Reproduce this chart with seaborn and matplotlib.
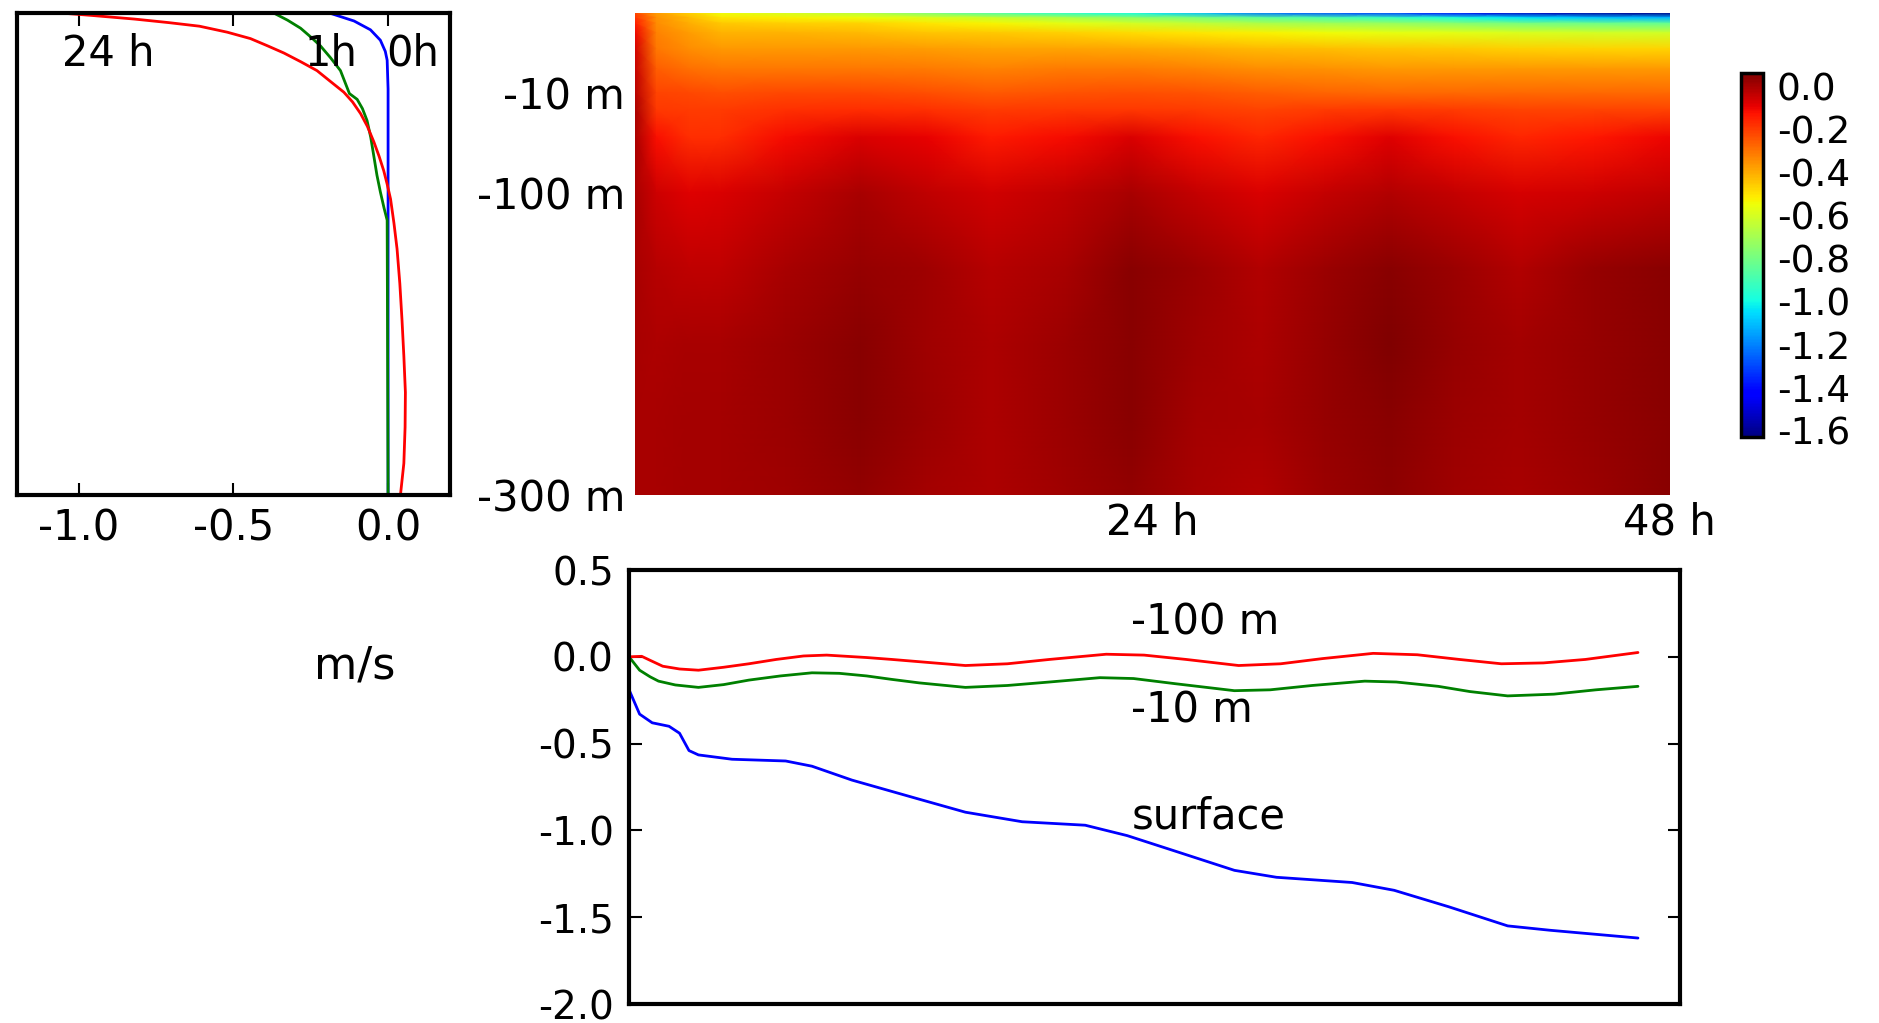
import numpy as np
import pandas as pd
import seaborn as sns
import matplotlib.pyplot as plt
from matplotlib.colors import Normalize

# ---------------- data ----------------
# vertical profiles of u (m/s) against depth (m), at 0 h, 1 h and 24 h
prof0_depth = [0, -1.0, -2.1, -3.4, -4.8, -5.9, -9.5, -300]
prof0_u = [-0.19, -0.11, -0.057, -0.025, -0.009, -0.003, 0.0, 0.0]
prof1_depth = [0, -0.9, -1.9, -3.0, -4.1, -5.6, -7.2, -10.5, -15.7, -24, -34.8, -50, -67, -84, -99, -110, -118, -300]
prof1_u = [-0.37, -0.325, -0.283, -0.25, -0.219, -0.186, -0.154, -0.125, -0.1, -0.083, -0.068, -0.056, -0.046,
           -0.036, -0.025, -0.013, -0.003, 0.0]
prof24_depth = [0, -0.3, -0.76, -1.2, -1.65, -2.4, -3.2, -4.1, -5.0, -6.1, -7.2, -8.6, -9.9, -18, -28.5, -40,
                -54, -67, -80, -92, -104, -120, -137, -160, -184, -208, -232, -255, -279, -300]
prof24_u = [-1.06, -0.96, -0.82, -0.71, -0.61, -0.52, -0.445, -0.39, -0.337, -0.282, -0.23, -0.185, -0.143,
            -0.115, -0.089, -0.067, -0.046, -0.029, -0.014, -0.003, 0.008, 0.019, 0.029, 0.038, 0.045, 0.051,
            0.056, 0.055, 0.051, 0.04]

# time series (hours, m/s) at three depths
surf_t = [0, 0.5, 1.1, 1.9, 2.4, 2.85, 3.3, 4.9, 7.45, 8.7, 10.6, 13.8, 16, 18.7, 21.7, 23.7, 26, 28.8,
          30.8, 34.4, 36.4, 39, 41.8, 43.8, 48]
surf_u = [-0.19, -0.33, -0.38, -0.40, -0.44, -0.54, -0.565, -0.59, -0.60, -0.63, -0.71, -0.82, -0.895,
          -0.95, -0.97, -1.03, -1.12, -1.23, -1.27, -1.30, -1.345, -1.44, -1.55, -1.575, -1.62]
m10_t = [0, 0.5, 1.0, 1.4, 2.2, 3.3, 4.5, 5.7, 7.2, 8.7, 10.0, 11.3, 12.5, 13.8, 16.0, 18.0, 20.0, 22.4,
         24.0, 26.0, 28.8, 30.5, 32.5, 35.0, 36.5, 38.5, 40.0, 41.8, 44.0, 46.0, 48]
m10_u = [0, -0.077, -0.115, -0.14, -0.162, -0.176, -0.16, -0.134, -0.11, -0.092, -0.095, -0.11, -0.13,
         -0.15, -0.176, -0.165, -0.145, -0.12, -0.125, -0.155, -0.195, -0.19, -0.165, -0.14, -0.145, -0.17,
         -0.2, -0.225, -0.215, -0.19, -0.17]
m100_t = [0, 0.6, 1.0, 1.6, 2.4, 3.3, 4.5, 5.7, 7.0, 8.3, 9.4, 11.3, 12.5, 14.0, 16.0, 18.0, 20.0, 22.7,
          24.5, 26.5, 29.0, 31.0, 33.0, 35.4, 37.5, 39.5, 41.5, 43.5, 45.5, 48]
m100_u = [0, 0.003, -0.02, -0.054, -0.07, -0.077, -0.06, -0.04, -0.015, 0.005, 0.01, -0.004, -0.015, -0.03,
          -0.05, -0.04, -0.015, 0.015, 0.01, -0.015, -0.05, -0.04, -0.01, 0.02, 0.012, -0.015, -0.04, -0.035,
          -0.015, 0.025]

# u(t, z) field for the section: columns = hours, rows = depth levels
times_h = [0, 1, 2.5, 4, 7, 10.5, 13.5, 16.5, 20, 23, 26, 29, 32, 35, 38, 41, 44.5, 48]
depth_m = [0, -0.6, -1.3, -2.5, -4.5, -7, -10, -25, -50, -100, -150, -200, -250, -300]
u_0m = [-0.22, -0.37, -0.46, -0.55, -0.60, -0.66, -0.78, -0.88, -0.95, -1.00, -1.10, -1.22, -1.28, -1.31, -1.40, -1.52, -1.58, -1.62]
u_0p6m = [-0.18, -0.35, -0.42, -0.50, -0.52, -0.55, -0.58, -0.62, -0.68, -0.74, -0.78, -0.84, -0.88, -0.92, -0.97, -1.04, -1.09, -1.12]
u_1p3m = [-0.14, -0.34, -0.40, -0.45, -0.46, -0.47, -0.50, -0.53, -0.57, -0.60, -0.64, -0.68, -0.71, -0.73, -0.76, -0.79, -0.81, -0.83]
u_2p5m = [-0.10, -0.32, -0.37, -0.41, -0.41, -0.42, -0.44, -0.45, -0.46, -0.48, -0.50, -0.52, -0.54, -0.56, -0.57, -0.59, -0.60, -0.61]
u_4p5m = [-0.06, -0.30, -0.34, -0.36, -0.36, -0.36, -0.37, -0.38, -0.38, -0.39, -0.40, -0.42, -0.43, -0.44, -0.45, -0.46, -0.47, -0.47]
u_7m = [-0.04, -0.26, -0.29, -0.30, -0.30, -0.30, -0.31, -0.32, -0.31, -0.31, -0.32, -0.34, -0.35, -0.36, -0.36, -0.36, -0.36, -0.36]
u_10m = [-0.02, -0.21, -0.22, -0.23, -0.22, -0.22, -0.23, -0.25, -0.24, -0.23, -0.24, -0.26, -0.27, -0.28, -0.28, -0.28, -0.28, -0.28]
u_25m = [0.0, -0.19, -0.20, -0.20, -0.18, -0.17, -0.18, -0.20, -0.19, -0.19, -0.20, -0.21, -0.20, -0.19, -0.20, -0.21, -0.21, -0.21]
u_50m = [0.0, -0.12, -0.17, -0.17, -0.11, -0.07, -0.09, -0.14, -0.11, -0.07, -0.12, -0.16, -0.12, -0.08, -0.12, -0.16, -0.13, -0.10]
u_100m = [0.0, -0.05, -0.08, -0.07, -0.04, 0.00, -0.03, -0.06, -0.03, 0.00, -0.04, -0.07, -0.04, -0.01, -0.04, -0.065, -0.05, -0.03]
u_150m = [0.0, -0.02, -0.03, -0.035, 0.0, 0.03, 0.015, -0.02, 0.0, 0.045, 0.02, -0.015, 0.02, 0.045, 0.02, -0.01, 0.025, 0.05]
u_200m = [0.0, -0.005, 0.0, 0.0, 0.02, 0.05, 0.015, -0.005, 0.02, 0.05, 0.015, -0.005, 0.025, 0.06, 0.025, 0.005, 0.025, 0.05]
u_250m = [0.0, 0.0, 0.005, 0.005, 0.02, 0.045, 0.02, -0.005, 0.02, 0.045, 0.01, 0.0, 0.025, 0.05, 0.02, 0.005, 0.025, 0.05]
u_300m = [0.0, 0.0, 0.005, 0.005, 0.015, 0.035, 0.01, -0.005, 0.015, 0.035, 0.0, -0.01, 0.02, 0.04, 0.015, 0.0, 0.02, 0.045]

cbar_ticks = [0.0, -0.2, -0.4, -0.6, -0.8, -1.0, -1.2, -1.4, -1.6]

# ---------------- style ----------------
sns.set_theme(style="ticks", rc={
    "axes.edgecolor": "black",
    "axes.linewidth": 3,
    "xtick.direction": "in",
    "ytick.direction": "in",
    "xtick.color": "black",
    "ytick.color": "black",
    "text.color": "black",
    "axes.unicode_minus": False,
})
plt.rcParams['font.family'] = ['DejaVu Sans']
plt.rcParams['axes.unicode_minus'] = False

# the model grid is stretched near the surface: same vertical mapping for profile and section
depth_anchor = [-300, -100, -10, 0]
pos_anchor = [0, 0.6266, 0.834, 1.0]


def fwd(d):
    return np.interp(d, depth_anchor, pos_anchor)


def inv(p):
    return np.interp(p, pos_anchor, depth_anchor)


fig = plt.figure(figsize=(18.79, 10.23), dpi=100)
ax1 = fig.add_axes([0.00905, 0.5161, 0.2304, 0.4712])
ax2 = fig.add_axes([0.3379, 0.5161, 0.5508, 0.4712])
cax = fig.add_axes([0.9266, 0.5728, 0.01171, 0.3558])
ax3 = fig.add_axes([0.3348, 0.01857, 0.5593, 0.4242])

# ---- profiles ----
prof = pd.concat([
    pd.DataFrame({'u': prof0_u, 'z': prof0_depth, 'when': '0h'}),
    pd.DataFrame({'u': prof1_u, 'z': prof1_depth, 'when': '1h'}),
    pd.DataFrame({'u': prof24_u, 'z': prof24_depth, 'when': '24 h'}),
])
sns.lineplot(data=prof, x='u', y='z', hue='when', hue_order=['0h', '1h', '24 h'],
             palette={'0h': 'blue', '1h': 'green', '24 h': 'red'},
             estimator=None, sort=False, legend=False, lw=2, ax=ax1)
ax1.set_yscale('function', functions=(fwd, inv))
ax1.set_ylim(-300, 0)
ax1.set_xlim(-1.2, 0.2)
ax1.set_xticks([-1.0, -0.5, 0.0])
ax1.set_xticklabels(['-1.0', '-0.5', '0.0'])
ax1.set_yticks([])
ax1.minorticks_off()
ax1.tick_params(axis='x', top=True, bottom=True, length=9, width=1.5, pad=9, labelsize=30)
ax1.set_xlabel('')
ax1.set_ylabel('')
tr = ax1.get_xaxis_transform()
for lab, xv in [('24 h', -0.906), ('1h', -0.184), ('0h', 0.081)]:
    ax1.text(xv, 0.915, lab, transform=tr, ha='center', va='center', fontsize=30)

# ---- section ----
field = np.array([u_0m, u_0p6m, u_1p3m, u_2p5m, u_4p5m, u_7m, u_10m, u_25m,
                  u_50m, u_100m, u_150m, u_200m, u_250m, u_300m])
norm = Normalize(vmin=-1.63, vmax=0.064)
mesh = ax2.pcolormesh(np.array(times_h), np.array(depth_m), field, shading='gouraud',
                      cmap='jet', norm=norm)
ax2.set_yscale('function', functions=(fwd, inv))
ax2.set_xlim(0, 48)
ax2.set_ylim(-300, 0)
ax2.set_yticks([-10, -100, -300])
ax2.set_yticklabels(['-10 m', '-100 m', '-300 m'])
ax2.set_xticks([24, 48])
ax2.set_xticklabels(['24 h', '48 h'])
ax2.minorticks_off()
ax2.tick_params(length=0, labelsize=30)
ax2.tick_params(axis='y', pad=7)
ax2.tick_params(axis='x', pad=5)
for s in ax2.spines.values():
    s.set_visible(False)

cb = fig.colorbar(mesh, cax=cax, ticks=cbar_ticks)
cb.ax.set_yticklabels(['%.1f' % v for v in cbar_ticks])
cb.outline.set_linewidth(2.5)
cb.ax.tick_params(direction='in', length=11, width=1.5, pad=10, labelsize=27)
cb.ax.minorticks_off()

# ---- time series ----
ts = pd.concat([
    pd.DataFrame({'t': surf_t, 'u': surf_u, 'level': 'surface'}),
    pd.DataFrame({'t': m10_t, 'u': m10_u, 'level': '-10 m'}),
    pd.DataFrame({'t': m100_t, 'u': m100_u, 'level': '-100 m'}),
])
sns.lineplot(data=ts, x='t', y='u', hue='level', hue_order=['surface', '-10 m', '-100 m'],
             palette={'surface': 'blue', '-10 m': 'green', '-100 m': 'red'},
             estimator=None, sort=False, legend=False, lw=2, ax=ax3)
ax3.set_xlim(0, 50)
ax3.set_ylim(-2.0, 0.5)
yt = [-2.0, -1.5, -1.0, -0.5, 0.0, 0.5]
ax3.set_yticks(yt)
ax3.set_yticklabels(['%.1f' % v for v in yt])
ax3.set_xticks([])
ax3.tick_params(axis='y', left=True, right=True, length=9, width=1.5, pad=11, labelsize=28)
ax3.set_xlabel('')
ax3.set_ylabel('')
ax3.text(23.9, 0.2, '-100 m', ha='left', va='center', fontsize=30)
ax3.text(23.9, -0.31, '-10 m', ha='left', va='center', fontsize=30)
ax3.text(23.9, -0.92, 'surface', ha='left', va='center', fontsize=30)

fig.text(355 / 1879, 1 - 666 / 1023, 'm/s', ha='center', va='center', fontsize=32)

plt.savefig('out.png', dpi=100)
